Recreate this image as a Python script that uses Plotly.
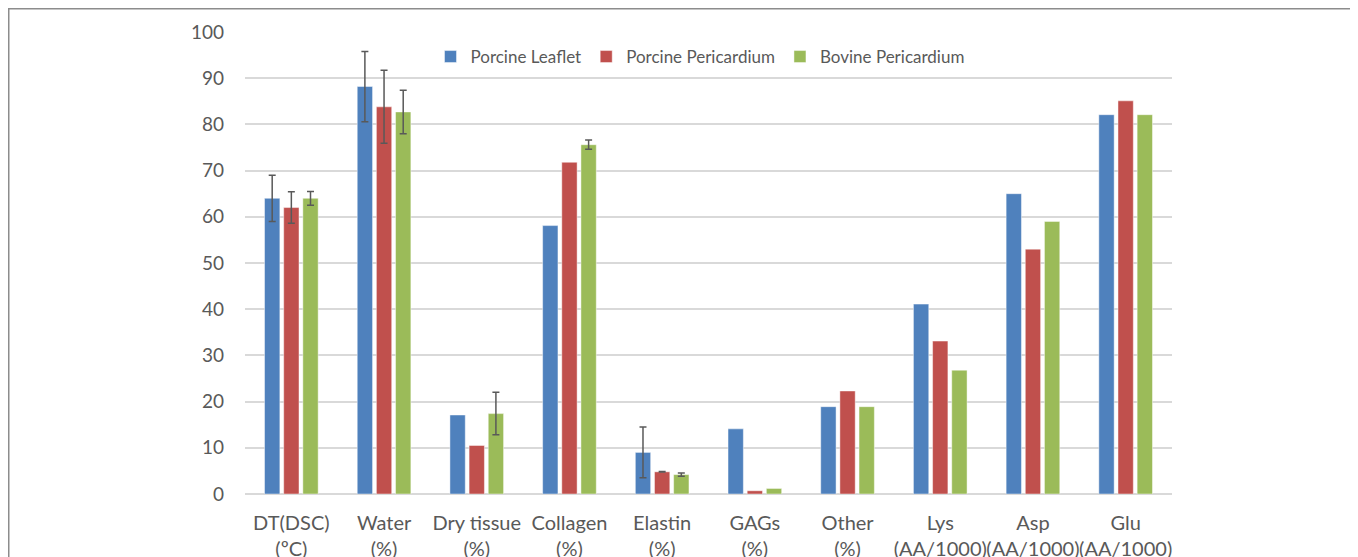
import plotly.graph_objects as go

categories = ["DT(DSC)<br>(ºC)", "Water<br>(%)", "Dry tissue<br>(%)", "Collagen<br>(%)", "Elastin<br>(%)",
              "GAGs<br>(%)", "Other<br>(%)", "Lys<br>(AA/1000)", "Asp<br>(AA/1000)", "Glu<br>(AA/1000)"]
series_names = ["Porcine Leaflet", "Porcine Pericardium", "Bovine Pericardium"]
porcine_leaflet = [64, 88.2, 17.1, 58.1, 9.0, 14.1, 18.9, 41.1, 65.0, 82.1]
porcine_pericardium = [62, 83.8, 10.5, 71.8, 4.8, 0.7, 22.3, 33.1, 53.0, 85.1]
bovine_pericardium = [64, 82.7, 17.4, 75.6, 4.2, 1.2, 18.9, 26.8, 59.0, 82.1]
# "NaN" marks categories without an error bar
err_leaflet = [5.0, 7.6, "NaN", "NaN", 5.5, "NaN", "NaN", "NaN", "NaN", "NaN"]
err_pp = [3.4, 7.9, "NaN", "NaN", 0.05, "NaN", "NaN", "NaN", "NaN", "NaN"]
err_bp = [1.5, 4.7, 4.6, 1.0, 0.35, "NaN", "NaN", "NaN", "NaN", "NaN"]
colors = ["#4F81BD", "#C0504D", "#9BBB59"]

font_family = "Lato, 'Open Sans', sans-serif"
txt = "#595959"

# page has an 8px body margin; figure coordinates = page coordinates - 8
W, H = 1350, 549
L, R, T, B = 237, 1164, 24, 486
pw, ph = R - L, B - T

fig = go.Figure()
for name, vals, errs, col in zip(series_names,
                                 [porcine_leaflet, porcine_pericardium, bovine_pericardium],
                                 [err_leaflet, err_pp, err_bp], colors):
    fig.add_trace(go.Bar(
        x=categories, y=vals, name=name,
        marker=dict(color=col, line=dict(color="rgba(255,255,255,0.45)", width=1)),
        error_y=dict(type="data", array=errs, visible=True, color="#595959",
                     thickness=1.5, width=3.5),
    ))

fig.update_layout(
    width=W, height=H,
    margin=dict(l=L, r=W - R, t=T, b=H - B, autoexpand=False),
    paper_bgcolor="white", plot_bgcolor="white",
    barmode="group", bargap=0.38, bargroupgap=0.2,
    font=dict(family=font_family, color=txt, size=19),
    legend=dict(orientation="h", x=(700 - 8 - L) / pw, xanchor="center",
                y=(B - (57 - 8)) / ph, yanchor="middle",
                bgcolor="rgba(0,0,0,0)", font=dict(size=17, color=txt),
                traceorder="normal"),
    yaxis=dict(range=[0, 100], dtick=10, showgrid=True, gridcolor="#D9D9D9", gridwidth=1.5,
               zeroline=True, zerolinecolor="#D9D9D9", zerolinewidth=1.5,
               showline=False, ticks="", ticklabelstandoff=20, automargin=False,
               tickfont=dict(size=19, color=txt)),
    xaxis=dict(showgrid=False, showline=False, ticks="", ticklabelstandoff=15, automargin=False,
               tickfont=dict(size=20, color=txt), tickangle=0),
    shapes=[dict(type="rect", xref="paper", yref="paper",
                 x0=(0.75 - L) / pw, x1=(1348 - L) / pw,
                 y0=-0.4, y1=(B - 0.75) / ph,
                 line=dict(color="#8C8C8C", width=1.5), fillcolor="rgba(0,0,0,0)", layer="above")],
)

fig.write_html("out.html")
